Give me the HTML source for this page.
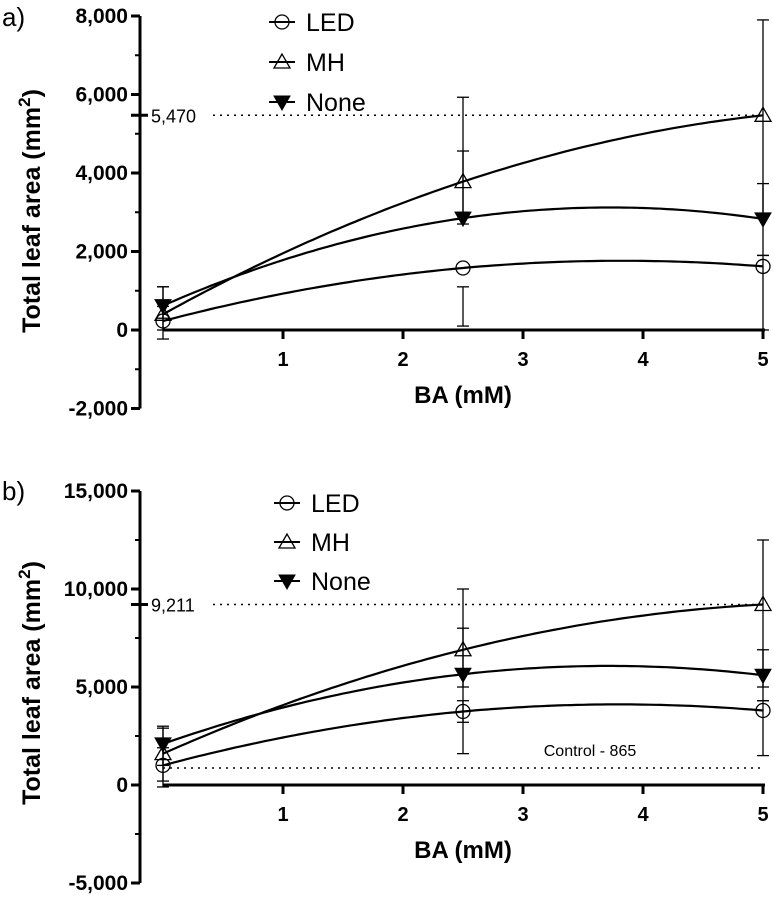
<!DOCTYPE html>
<html><head><meta charset="utf-8"><style>
html,body{margin:0;padding:0;background:#fff;}
svg{display:block;font-family:"Liberation Sans",sans-serif;}
</style></head><body>
<svg id="chart" width="774" height="897" viewBox="0 0 774 897"></svg>
<script>
const xValues=[0,2.5,5];
const xTicks=[1,2,3,4,5];
const seriesNames=["LED","MH","None"];
const aLED=[230,1580,1620];
const aMH=[400,3780,5470];
const aNone=[620,2850,2830];
const aErrLow=[[-230,100,0],[0,3000,1900],[300,2700,2950]];
const aErrHigh=[[600,1100,1900],[1100,5930,7900],[1100,4560,3730]];
const aYTicks=[-2000,0,2000,4000,6000,8000];
const aYTickLabels=["-2,000","0","2,000","4,000","6,000","8,000"];
const bLED=[1000,3750,3800];
const bMH=[1600,6900,9211];
const bNone=[2100,5650,5600];
const bErrLow=[[-100,1600,1500],[200,3200,4300],[1000,5000,5000]];
const bErrHigh=[[1900,4300,4300],[3000,8000,12500],[2900,10000,6900]];
const bYTicks=[-5000,0,5000,10000,15000];
const bYTickLabels=["-5,000","0","5,000","10,000","15,000"];
const NS="http://www.w3.org/2000/svg";
const svg=document.getElementById('chart');
function mk(tag,attrs,parent,text){const e=document.createElementNS(NS,tag);for(const k in attrs)e.setAttribute(k,attrs[k]);if(text!==undefined)e.textContent=text;(parent||svg).appendChild(e);return e;}
function quad(ys){const y0=ys[0],y1=ys[1],y2=ys[2];const a=(y2-2*y1+y0)/(2*6.25);const b=(y1-y0-a*6.25)/2.5;return x=>y0+b*x+a*x*x;}
function drawMarker(g,kind,cx,cy){
 let m;
 if(kind===0)m=mk('circle',{cx:cx,cy:cy,r:7,fill:'none',stroke:'#000','stroke-width':1.3},g);
 else if(kind===1)m=mk('polygon',{points:`${cx},${cy-8} ${cx-8},${cy+6} ${cx+8},${cy+6}`,fill:'none',stroke:'#000','stroke-width':1.3},g);
 else m=mk('polygon',{points:`${cx-8},${cy-6} ${cx+8},${cy-6} ${cx},${cy+8}`,fill:'#000',stroke:'#000','stroke-width':1},g);
 return m;
}
function panel(cfg){
 const g=mk('g',{});
 
 
 const X=v=>163+(v)*120;
 const Y=v=>cfg.y0-v*cfg.sc;
 const ya=mk('line',{x1:140,y1:Y(cfg.ymax),x2:140,y2:Y(cfg.ymin),stroke:'#000','stroke-width':3},g);
 
 for(let i=0;i<cfg.yt.length;i++){
  const v=cfg.yt[i];
  mk('line',{x1:131,y1:Y(v),x2:140,y2:Y(v),stroke:'#000','stroke-width':3},g);
  const t=mk('text',{x:128,y:Y(v)+7,'text-anchor':'end','font-size':21,'font-weight':'bold'},g,cfg.ytl[i]);
  
  if(i<cfg.yt.length-1){const mv=(v+cfg.yt[i+1])/2;mk('line',{x1:135,y1:Y(mv),x2:140,y2:Y(mv),stroke:'#000','stroke-width':2},g);}
 }
 const xa=mk('line',{x1:163,y1:Y(0),x2:765,y2:Y(0),stroke:'#000','stroke-width':3},g);
 
 xTicks.forEach(v=>{
  mk('line',{x1:X(v),y1:Y(0),x2:X(v),y2:Y(0)+9,stroke:'#000','stroke-width':3},g);
  const t=mk('text',{x:X(v),y:Y(0)+36,'text-anchor':'middle','font-size':20,'font-weight':'bold'},g,String(v));
  
 });
 const yt=mk('text',{transform:`translate(40,${cfg.ytitleY}) rotate(-90)`,'text-anchor':'middle','font-size':25,'font-weight':'bold'},g);
 
 yt.innerHTML='Total leaf area (mm<tspan dy="-10" font-size="17">2</tspan><tspan dy="10">)</tspan>';
 const xt=mk('text',{x:463,y:Y(0)+73,'text-anchor':'middle','font-size':24,'font-weight':'bold'},g,'BA (mM)');
 
 const pl=mk('text',{x:2,y:cfg.labelY,'font-size':26},g,cfg.label);
 
 const rv=cfg.ref;
 const rline=mk('line',{x1:213,y1:Y(rv),x2:765,y2:Y(rv),stroke:'#000','stroke-width':1.5,'stroke-dasharray':'2,5'},g);
 
 mk('line',{x1:131,y1:Y(rv),x2:148,y2:Y(rv),stroke:'#000','stroke-width':3},g);
 const rl=mk('text',{x:151,y:Y(rv)+7,'font-size':18},g,cfg.refLabel);
 
 if(cfg.ctrl!==undefined){
  const cl=mk('line',{x1:163,y1:Y(cfg.ctrl),x2:765,y2:Y(cfg.ctrl),stroke:'#000','stroke-width':1.5,'stroke-dasharray':'2,5'},g);
  
  const ct=mk('text',{x:590,y:Y(cfg.ctrl)-12,'text-anchor':'middle','font-size':16},g,'Control - '+cfg.ctrl);
  
 }
 for(let s=0;s<3;s++){for(let i=0;i<3;i++){
  const x=X(xValues[i]);
  const eb=mk('line',{x1:x,y1:Y(cfg.hi[s][i]),x2:x,y2:Y(cfg.lo[s][i]),stroke:'#000','stroke-width':1.3},g);
  
  mk('line',{x1:x-6,y1:Y(cfg.hi[s][i]),x2:x+6,y2:Y(cfg.hi[s][i]),stroke:'#000','stroke-width':1.3},g);
  mk('line',{x1:x-6,y1:Y(cfg.lo[s][i]),x2:x+6,y2:Y(cfg.lo[s][i]),stroke:'#000','stroke-width':1.3},g);
 }}
 cfg.series.forEach((ys,s)=>{
  const f=quad(ys);let d='';
  for(let k=0;k<=100;k++){const xv=5*k/100;d+=(k?'L':'M')+X(xv).toFixed(1)+','+Y(f(xv)).toFixed(1);}
  const p=mk('path',{d:d,fill:'none',stroke:'#000','stroke-width':2.2},g);
  
  
  ys.forEach((v,i)=>{const m=drawMarker(g,s,X(xValues[i]),Y(v));
   
   });
 });
 seriesNames.forEach((n,s)=>{
  const ly=cfg.legY+s*cfg.legStep;
  const lg=mk('g',{},g);
  
  
  mk('line',{x1:cfg.legX-13,y1:ly,x2:cfg.legX+13,y2:ly,stroke:'#000','stroke-width':2},lg);
  drawMarker(lg,s,cfg.legX,ly);
  mk('text',{x:cfg.legX+24,y:ly+9,'font-size':25},lg,n);
 });
}
panel({name:'panel-a',label:'a)',labelY:26,y0:330,sc:78.5/2000,ymin:-2000,ymax:8000,yt:aYTicks,ytl:aYTickLabels,ytitleY:211,ref:5470,refLabel:'5,470',series:[aLED,aMH,aNone],lo:aErrLow,hi:aErrHigh,legY:22,legStep:40,legX:282});
panel({name:'panel-b',label:'b)',labelY:500,y0:785,sc:98/5000,ymin:-5000,ymax:15000,yt:bYTicks,ytl:bYTickLabels,ytitleY:683,ref:9211,refLabel:'9,211',ctrl:865,series:[bLED,bMH,bNone],lo:bErrLow,hi:bErrHigh,legY:503,legStep:39,legX:287});
</script>
</body></html>
